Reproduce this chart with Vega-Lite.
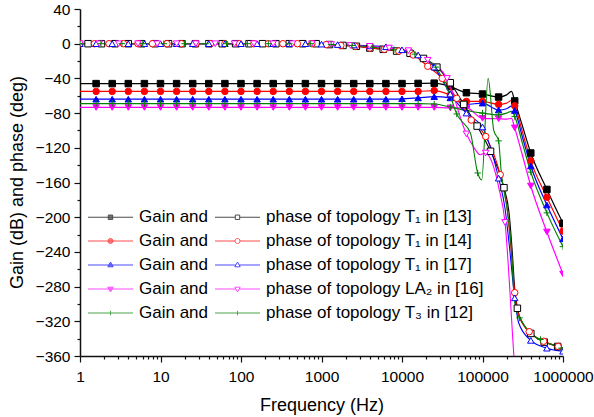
{
"$schema":"https://vega.github.io/schema/vega-lite/v6.json",
"width":483,"height":347,"autosize":"none",
"padding":{"left":80,"top":9,"right":31,"bottom":61},
"config":{"view":{"stroke":null},"font":"Liberation Sans"},
"datasets":{
"gain":[
{"f":1,"mk":0,"g1":-46,"g2":-55,"g3":-64,"g4":-73.5,"g5":-69},
{"f":1.585,"mk":1,"g1":-46,"g2":-55,"g3":-64,"g4":-73.5,"g5":-69},
{"f":2.512,"mk":1,"g1":-46,"g2":-55,"g3":-64,"g4":-73.5,"g5":-69},
{"f":3.981,"mk":1,"g1":-46,"g2":-55,"g3":-64,"g4":-73.5,"g5":-69},
{"f":6.31,"mk":1,"g1":-46,"g2":-55,"g3":-64,"g4":-73.5,"g5":-69},
{"f":10,"mk":1,"g1":-46,"g2":-55,"g3":-64,"g4":-73.5,"g5":-69},
{"f":15.85,"mk":1,"g1":-46,"g2":-55,"g3":-64,"g4":-73.5,"g5":-69},
{"f":25.12,"mk":1,"g1":-46,"g2":-55,"g3":-64,"g4":-73.5,"g5":-69},
{"f":39.81,"mk":1,"g1":-46,"g2":-55,"g3":-64,"g4":-73.5,"g5":-69},
{"f":63.1,"mk":1,"g1":-46,"g2":-55,"g3":-64,"g4":-73.5,"g5":-69},
{"f":100,"mk":1,"g1":-46,"g2":-55,"g3":-64,"g4":-73.5,"g5":-69},
{"f":158.5,"mk":1,"g1":-46,"g2":-55,"g3":-64,"g4":-73.5,"g5":-69},
{"f":251.2,"mk":1,"g1":-46,"g2":-55,"g3":-64,"g4":-73.5,"g5":-69},
{"f":398.1,"mk":1,"g1":-46,"g2":-55,"g3":-64,"g4":-73.5,"g5":-69},
{"f":631,"mk":1,"g1":-46,"g2":-55,"g3":-64,"g4":-73.5,"g5":-69},
{"f":1000,"mk":1,"g1":-46,"g2":-55,"g3":-64,"g4":-73.5,"g5":-69},
{"f":1585,"mk":1,"g1":-46,"g2":-55,"g3":-64,"g4":-73.5,"g5":-69},
{"f":2512,"mk":1,"g1":-46,"g2":-55,"g3":-64,"g4":-73.5,"g5":-69},
{"f":3981,"mk":1,"g1":-46,"g2":-55,"g3":-64,"g4":-73.5,"g5":-69},
{"f":6310,"mk":1,"g1":-46,"g2":-55,"g3":-64,"g4":-73.5,"g5":-69},
{"f":10000,"mk":1,"g1":-46,"g2":-55,"g3":-63.5,"g4":-73.5,"g5":-69},
{"f":15850,"mk":1,"g1":-45.8,"g2":-55,"g3":-62.5,"g4":-73.5,"g5":-69},
{"f":25120,"mk":1,"g1":-45.5,"g2":-54,"g3":-61,"g4":-73.5,"g5":-69.5},
{"f":39810,"mk":1,"g1":-49.5,"g2":-59,"g3":-62.5,"g4":-74,"g5":-73},
{"f":63100,"mk":1,"g1":-56.5,"g2":-66.5,"g3":-70,"g4":-74,"g5":-77},
{"f":100000,"mk":1,"g1":-58,"g2":-66.5,"g3":-68.5,"g4":-86,"g5":-80},
{"f":158500,"mk":1,"g1":-61.5,"g2":-70,"g3":-76.5,"g4":-86.5,"g5":-82},
{"f":199500,"mk":0,"g1":-59,"g2":-68.5,"g3":-75,"g4":-87,"g5":-80},
{"f":229100,"mk":0,"g1":-55,"g2":-65.5,"g3":-72,"g4":-86,"g5":-78},
{"f":251200,"mk":1,"g1":-66,"g2":-71.5,"g3":-77,"g4":-97,"g5":-84},
{"f":316200,"mk":0,"g1":-96,"g2":-103,"g3":-109,"g4":-130,"g5":-116},
{"f":398100,"mk":1,"g1":-126,"g2":-135,"g3":-141,"g4":-164,"g5":-148},
{"f":631000,"mk":1,"g1":-168,"g2":-177,"g3":-186,"g4":-217,"g5":-195},
{"f":1000000,"mk":1,"g1":-207,"g2":-216,"g3":-225,"g4":-265.5,"g5":-234}
],
"phase":[
{"f":1,"k":"p1","v":0,"mk":0},
{"f":1.259,"k":"p1","v":0,"mk":1},{"f":1.848,"k":"p1","v":0,"mk":1},{"f":2.712,"k":"p1","v":0,"mk":1},{"f":3.981,"k":"p1","v":0,"mk":1},{"f":5.843,"k":"p1","v":0,"mk":1},{"f":8.577,"k":"p1","v":0,"mk":1},
{"f":12.59,"k":"p1","v":0,"mk":1},{"f":18.48,"k":"p1","v":0,"mk":1},{"f":27.12,"k":"p1","v":0,"mk":1},{"f":39.81,"k":"p1","v":0,"mk":1},{"f":58.43,"k":"p1","v":0,"mk":1},{"f":85.77,"k":"p1","v":0,"mk":1},
{"f":125.9,"k":"p1","v":0,"mk":1},{"f":184.8,"k":"p1","v":0,"mk":1},{"f":271.2,"k":"p1","v":0,"mk":1},{"f":398.1,"k":"p1","v":0,"mk":1},{"f":584.3,"k":"p1","v":0,"mk":1},{"f":857.7,"k":"p1","v":0,"mk":1},
{"f":1259,"k":"p1","v":-1,"mk":1},{"f":1848,"k":"p1","v":-2,"mk":1},{"f":2712,"k":"p1","v":-3,"mk":1},{"f":3981,"k":"p1","v":-5,"mk":1},{"f":5843,"k":"p1","v":-6.5,"mk":1},{"f":8577,"k":"p1","v":-8.5,"mk":1},
{"f":12590,"k":"p1","v":-11,"mk":1},{"f":18480,"k":"p1","v":-17,"mk":1},{"f":27120,"k":"p1","v":-27,"mk":1},{"f":39810,"k":"p1","v":-45,"mk":1},{"f":58430,"k":"p1","v":-70,"mk":1},{"f":85770,"k":"p1","v":-95,"mk":1},
{"f":125900,"k":"p1","v":-124,"mk":1},{"f":184800,"k":"p1","v":-166,"mk":1},{"f":213800,"k":"p1","v":-195,"mk":0},{"f":234400,"k":"p1","v":-240,"mk":0},{"f":251200,"k":"p1","v":-282,"mk":0},{"f":271200,"k":"p1","v":-305,"mk":1},{"f":316200,"k":"p1","v":-322,"mk":0},{"f":398100,"k":"p1","v":-334,"mk":1},{"f":584300,"k":"p1","v":-344,"mk":1},{"f":857700,"k":"p1","v":-349,"mk":1},{"f":1000000,"k":"p1","v":-351,"mk":0},

{"f":1,"k":"p2","v":0,"mk":1},{"f":1.514,"k":"p2","v":0,"mk":1},{"f":2.291,"k":"p2","v":0,"mk":1},{"f":3.467,"k":"p2","v":0,"mk":1},{"f":5.248,"k":"p2","v":0,"mk":1},{"f":7.943,"k":"p2","v":0,"mk":1},
{"f":12.02,"k":"p2","v":0,"mk":1},{"f":18.2,"k":"p2","v":0,"mk":1},{"f":27.54,"k":"p2","v":0,"mk":1},{"f":41.69,"k":"p2","v":0,"mk":1},{"f":63.1,"k":"p2","v":0,"mk":1},{"f":95.5,"k":"p2","v":0,"mk":1},
{"f":144.5,"k":"p2","v":0,"mk":1},{"f":218.8,"k":"p2","v":0,"mk":1},{"f":331.1,"k":"p2","v":0,"mk":1},{"f":501.2,"k":"p2","v":0,"mk":1},{"f":758.6,"k":"p2","v":0,"mk":1},
{"f":1148,"k":"p2","v":-1,"mk":1},{"f":1738,"k":"p2","v":-2,"mk":1},{"f":2630,"k":"p2","v":-3,"mk":1},{"f":3981,"k":"p2","v":-5,"mk":1},{"f":6026,"k":"p2","v":-6.5,"mk":1},{"f":9120,"k":"p2","v":-8.5,"mk":1},
{"f":13800,"k":"p2","v":-13,"mk":1},{"f":20890,"k":"p2","v":-26,"mk":1},{"f":31620,"k":"p2","v":-40,"mk":1},{"f":47860,"k":"p2","v":-63,"mk":1},{"f":72440,"k":"p2","v":-88,"mk":1},{"f":109600,"k":"p2","v":-107,"mk":1},
{"f":166000,"k":"p2","v":-151,"mk":1},{"f":199500,"k":"p2","v":-185,"mk":0},{"f":223900,"k":"p2","v":-232,"mk":0},{"f":251200,"k":"p2","v":-287,"mk":1},{"f":281800,"k":"p2","v":-313,"mk":0},{"f":380200,"k":"p2","v":-332,"mk":1},{"f":575400,"k":"p2","v":-343,"mk":1},{"f":871000,"k":"p2","v":-349,"mk":1},{"f":1000000,"k":"p2","v":-352,"mk":0},

{"f":1,"k":"p3","v":0,"mk":1},{"f":1.585,"k":"p3","v":0,"mk":1},{"f":2.512,"k":"p3","v":0,"mk":1},{"f":3.981,"k":"p3","v":0,"mk":1},{"f":6.31,"k":"p3","v":0,"mk":1},
{"f":10,"k":"p3","v":0,"mk":1},{"f":15.85,"k":"p3","v":0,"mk":1},{"f":25.12,"k":"p3","v":0,"mk":1},{"f":39.81,"k":"p3","v":0,"mk":1},{"f":63.1,"k":"p3","v":0,"mk":1},
{"f":100,"k":"p3","v":0,"mk":1},{"f":158.5,"k":"p3","v":0,"mk":1},{"f":251.2,"k":"p3","v":0,"mk":1},{"f":398.1,"k":"p3","v":0,"mk":1},{"f":631,"k":"p3","v":0,"mk":1},
{"f":1000,"k":"p3","v":-0.5,"mk":1},{"f":1585,"k":"p3","v":-1,"mk":1},{"f":2512,"k":"p3","v":-1.5,"mk":1},{"f":3981,"k":"p3","v":-2.5,"mk":1},{"f":6310,"k":"p3","v":-3.5,"mk":1},
{"f":10000,"k":"p3","v":-7,"mk":1},{"f":15850,"k":"p3","v":-13,"mk":1},{"f":25120,"k":"p3","v":-27,"mk":1},{"f":31620,"k":"p3","v":-42,"mk":0},{"f":39810,"k":"p3","v":-58,"mk":1},{"f":50120,"k":"p3","v":-70,"mk":0},{"f":63100,"k":"p3","v":-80,"mk":1},{"f":79430,"k":"p3","v":-87,"mk":0},
{"f":100000,"k":"p3","v":-96,"mk":1},{"f":125900,"k":"p3","v":-120,"mk":0},{"f":158500,"k":"p3","v":-155,"mk":1},{"f":190500,"k":"p3","v":-190,"mk":0},{"f":213800,"k":"p3","v":-230,"mk":0},{"f":251200,"k":"p3","v":-293,"mk":1},{"f":281800,"k":"p3","v":-322,"mk":0},{"f":398100,"k":"p3","v":-342,"mk":1},{"f":631000,"k":"p3","v":-351,"mk":1},{"f":1000000,"k":"p3","v":-354.5,"mk":1},

{"f":1,"k":"p4","v":0,"mk":1},{"f":1.738,"k":"p4","v":0,"mk":1},{"f":3.02,"k":"p4","v":0,"mk":1},{"f":5.248,"k":"p4","v":0,"mk":1},{"f":9.12,"k":"p4","v":0,"mk":1},{"f":15.85,"k":"p4","v":0,"mk":1},
{"f":27.54,"k":"p4","v":0,"mk":1},{"f":47.86,"k":"p4","v":0,"mk":1},{"f":83.18,"k":"p4","v":0,"mk":1},{"f":144.5,"k":"p4","v":0,"mk":1},{"f":251.2,"k":"p4","v":0,"mk":1},{"f":436.5,"k":"p4","v":0,"mk":1},
{"f":758.6,"k":"p4","v":0,"mk":1},{"f":1318,"k":"p4","v":-1,"mk":1},{"f":2291,"k":"p4","v":-2,"mk":1},{"f":3981,"k":"p4","v":-3,"mk":1},{"f":6918,"k":"p4","v":-5,"mk":1},{"f":12020,"k":"p4","v":-8,"mk":1},
{"f":20890,"k":"p4","v":-19,"mk":1},{"f":36310,"k":"p4","v":-40,"mk":1},{"f":63100,"k":"p4","v":-104,"mk":1},{"f":77620,"k":"p4","v":-119,"mk":0},{"f":93330,"k":"p4","v":-128,"mk":0},{"f":109600,"k":"p4","v":-126,"mk":1},
{"f":123000,"k":"p4","v":-131,"mk":0},{"f":144500,"k":"p4","v":-149,"mk":0},{"f":158500,"k":"p4","v":-165,"mk":0},{"f":190500,"k":"p4","v":-206,"mk":1},{"f":245500,"k":"p4","v":-360,"mk":0},{"f":281800,"k":"p4","v":-440,"mk":0},

{"f":1,"k":"p5","v":0,"mk":1},{"f":1.82,"k":"p5","v":0,"mk":1},{"f":3.311,"k":"p5","v":0,"mk":1},{"f":6.026,"k":"p5","v":0,"mk":1},{"f":10.96,"k":"p5","v":0,"mk":1},{"f":19.95,"k":"p5","v":0,"mk":1},
{"f":36.31,"k":"p5","v":0,"mk":1},{"f":66.07,"k":"p5","v":0,"mk":1},{"f":120.2,"k":"p5","v":0,"mk":1},{"f":218.8,"k":"p5","v":0,"mk":1},{"f":398.1,"k":"p5","v":0,"mk":1},{"f":724.4,"k":"p5","v":0,"mk":1},
{"f":1318,"k":"p5","v":-1,"mk":1},{"f":2399,"k":"p5","v":-2,"mk":1},{"f":4365,"k":"p5","v":-4,"mk":1},{"f":7943,"k":"p5","v":-7,"mk":1},{"f":14450,"k":"p5","v":-12,"mk":1},{"f":26300,"k":"p5","v":-27,"mk":1},
{"f":31620,"k":"p5","v":-40,"mk":0},{"f":39810,"k":"p5","v":-60,"mk":0},{"f":47860,"k":"p5","v":-81,"mk":1},{"f":53700,"k":"p5","v":-88,"mk":0},{"f":70790,"k":"p5","v":-103,"mk":0},{"f":87100,"k":"p5","v":-149,"mk":1},
{"f":97720,"k":"p5","v":-157,"mk":0},{"f":117500,"k":"p5","v":-40,"mk":0},{"f":138000,"k":"p5","v":-100,"mk":0},{"f":158500,"k":"p5","v":-112,"mk":1},{"f":169800,"k":"p5","v":-145,"mk":0},{"f":208900,"k":"p5","v":-200,"mk":0},
{"f":229100,"k":"p5","v":-238,"mk":0},{"f":245500,"k":"p5","v":-288,"mk":0},{"f":263000,"k":"p5","v":-308,"mk":0},{"f":288400,"k":"p5","v":-316,"mk":1},{"f":389000,"k":"p5","v":-333,"mk":0},{"f":524800,"k":"p5","v":-341,"mk":1},{"f":955000,"k":"p5","v":-351,"mk":1},{"f":1000000,"k":"p5","v":-352,"mk":0}
]
},
"encoding":{
"x":{"field":"f","type":"quantitative","title":"Frequency (Hz)",
 "scale":{"type":"log","domain":[1,1000000],"nice":false},
 "axis":{"values":[1,2,3,4,5,6,7,8,9,10,20,30,40,50,60,70,80,90,100,200,300,400,500,600,700,800,900,1000,2000,3000,4000,5000,6000,7000,8000,9000,10000,20000,30000,40000,50000,60000,70000,80000,90000,100000,200000,300000,400000,500000,600000,700000,800000,900000,1000000],
  "format":"d","labelExpr":"indexof([1,10,100,1000,10000,100000,1000000], datum.value) >= 0 ? datum.label : ''",
  "tickSize":{"condition":{"test":"indexof([1,10,100,1000,10000,100000,1000000], datum.value) >= 0","value":6},"value":3},
  "labelOverlap":false,"labelFlush":false,"labelBound":false,"grid":false,
  "domainColor":"#111","domainWidth":1.5,"tickColor":"#111","tickWidth":1.2,
  "labelFont":"Liberation Sans","labelFontSize":15.5,"labelColor":"#000","labelPadding":7,
  "titleFont":"Liberation Sans","titleFontSize":18,"titleFontWeight":"normal","titleColor":"#000",
  "titleX":241.5,"titleY":54,"titleBaseline":"alphabetic","titleAlign":"center"}},
"y":{"field":"v","type":"quantitative","title":"Gain (dB) and phase (deg)",
 "scale":{"domain":[-360,40],"nice":false,"zero":false},
 "axis":{"values":[-360,-340,-320,-300,-280,-260,-240,-220,-200,-180,-160,-140,-120,-100,-80,-60,-40,-20,0,20,40],
  "labelExpr":"datum.value % 40 === 0 ? datum.label : ''",
  "tickSize":{"condition":{"test":"datum.value % 40 === 0","value":6},"value":3},
  "labelOverlap":false,"grid":false,
  "domainColor":"#111","domainWidth":1.5,"tickColor":"#111","tickWidth":1.2,
  "labelFont":"Liberation Sans","labelFontSize":15.5,"labelColor":"#000","labelPadding":4,
  "titleFont":"Liberation Sans","titleFontSize":18,"titleFontWeight":"normal","titleColor":"#000",
  "titleX":-58,"titleY":173,"titleAngle":270,"titleBaseline":"alphabetic","titleAlign":"center"}},
"stroke":{"field":"k","type":"nominal",
 "scale":{"domain":["g1","p1","g2","p2","g3","p3","g4","p4","g5","p5"],"range":["#000000","#000000","#ff0000","#ff0000","#0000ff","#0000ff","#ff00ff","#ff00ff","#008000","#008000"]},
 "legend":{"orient":"none","legendX":8,"legendY":197.5,"title":null,"columns":2,"direction":"horizontal","padding":0,
  "labelFont":"Liberation Sans","labelFontSize":17,"labelColor":"#000","labelLimit":0,"labelOffset":18,
  "symbolOffset":12,"symbolSize":400,"symbolStrokeWidth":1,"rowPadding":5,"columnPadding":5,
  "labelExpr":"{'g1':'Gain and','p1':'phase of topology T₁ in [13]','g2':'Gain and','p2':'phase of topology T₁ in [14]','g3':'Gain and','p3':'phase of topology T₁ in [17]','g4':'Gain and','p4':'phase of topology LA₂ in [16]','g5':'Gain and','p5':'phase of topology T₃ in [12]'}[datum.value]"}}
},
"layer":[
{"data":{"values":[]},
 "mark":{"type":"point","filled":true},
 "encoding":{
  "shape":{"field":"k","type":"nominal","scale":{"domain":["g1","p1","g2","p2","g3","p3","g4","p4","g5","p5"],"range":["M-2.25,0H2.25M-0.22,-0.22H0.22V0.22H-0.22Z","M-2.25,0H-0.22M0.22,0H2.25M-0.22,-0.22H0.22V0.22H-0.22Z","M-2.25,0H2.25M-0.25,0A0.25,0.25,0,1,0,0.25,0A0.25,0.25,0,1,0,-0.25,0Z","M-2.25,0H-0.25M0.25,0H2.25M-0.25,0A0.25,0.25,0,1,0,0.25,0A0.25,0.25,0,1,0,-0.25,0Z","M-2.25,0H2.25M0,-0.3L0.27,0.18L-0.27,0.18Z","M-2.25,0H-0.17M0.17,0H2.25M0,-0.3L0.27,0.18L-0.27,0.18Z","M-2.25,0H2.25M0,0.3L0.27,-0.18L-0.27,-0.18Z","M-2.25,0H-0.17M0.17,0H2.25M0,0.3L0.27,-0.18L-0.27,-0.18Z","M-2.25,0H2.25M0,-0.22V0.22","M-2.25,0H2.25M0,-0.22V0.22"]}},
  "fill":{"field":"k","type":"nominal","scale":{"domain":["g1","p1","g2","p2","g3","p3","g4","p4","g5","p5"],"range":["#000000","#ffffff","#ff0000","#ffffff","#0000ff","#ffffff","#ff00ff","#ffffff","#008000","#ffffff"]}}}},
{"data":{"name":"gain"},"transform":[{"fold":["g1","g2","g3","g4","g5"],"as":["k","v"]}],
 "mark":{"type":"line","interpolate":"monotone","strokeWidth":1.2,"clip":true}},
{"data":{"name":"gain"},"transform":[{"filter":"datum.mk == 1"},{"fold":["g1","g2","g3","g4","g5"],"as":["k","v"]}],
 "mark":{"type":"point","filled":true,"size":42,"strokeWidth":1,"opacity":1,"clip":true},
 "encoding":{
  "fill":{"field":"k","type":"nominal"},
  "shape":{"condition":[{"test":"indexof(['g1','p1'], datum.k) >= 0","value":"square"},{"test":"indexof(['g2','p2'], datum.k) >= 0","value":"circle"},{"test":"indexof(['g3','p3'], datum.k) >= 0","value":"triangle-up"},{"test":"indexof(['g4','p4'], datum.k) >= 0","value":"triangle-down"}],"value":"M-1,0H1M0,-1V1"}}},
{"data":{"name":"phase"},
 "mark":{"type":"line","interpolate":"monotone","strokeWidth":1.1,"clip":true}},
{"data":{"name":"phase"},"transform":[{"filter":"datum.mk == 1"}],
 "mark":{"type":"point","filled":false,"fill":"#ffffff","size":42,"strokeWidth":1,"opacity":1,"clip":true},
 "encoding":{
  "shape":{"condition":[{"test":"indexof(['g1','p1'], datum.k) >= 0","value":"square"},{"test":"indexof(['g2','p2'], datum.k) >= 0","value":"circle"},{"test":"indexof(['g3','p3'], datum.k) >= 0","value":"triangle-up"},{"test":"indexof(['g4','p4'], datum.k) >= 0","value":"triangle-down"}],"value":"M-1,0H1M0,-1V1"}}}
]
}
